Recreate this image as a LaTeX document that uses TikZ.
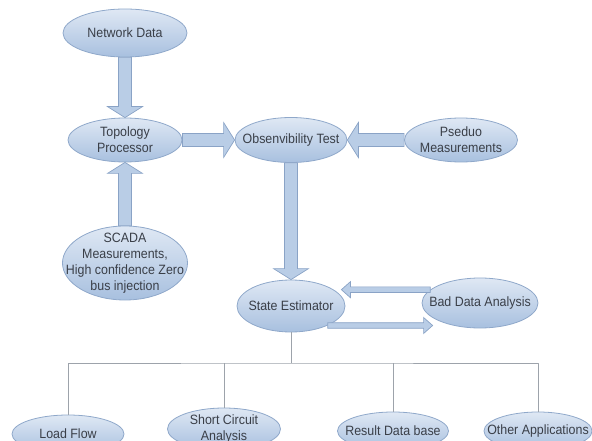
\documentclass[tikz,border=0pt]{standalone}
\usepackage{fontspec}
\setmainfont{Liberation Sans}[FakeStretch=0.92]
\usetikzlibrary{calc,shapes.geometric}
\definecolor{ellborder}{HTML}{8FA8CA}
\definecolor{elltop}{HTML}{DFE8F4}
\definecolor{ellbot}{HTML}{A8C0DF}
\definecolor{arrfill}{HTML}{B9CDE6}
\definecolor{arrborder}{HTML}{8AA3C6}
\definecolor{treeline}{HTML}{9DA3AB}
\definecolor{txt}{HTML}{3A3F48}

\begin{document}
\begin{tikzpicture}[x=1pt,y=-1pt,line join=round,
  ptext/.style={inner sep=0pt,align=center,text=txt,font=\fontsize{13.5}{16}\selectfont},
  proc/.style={ellipse,draw=ellborder,line width=0.8pt,top color=elltop,bottom color=ellbot,
    inner sep=0pt,label={[ptext]center:#1}},
  block/.style n args={3}{draw=arrborder,line width=0.7pt,fill=arrfill,line join=miter,
    to path={($(\tikztostart)!#1!90:(\tikztotarget)$)
      -- ($($(\tikztotarget)!#3!(\tikztostart)$)!#1!90:(\tikztotarget)$)
      -- ($($(\tikztotarget)!#3!(\tikztostart)$)!#2!90:(\tikztotarget)$)
      -- (\tikztotarget)
      -- ($($(\tikztotarget)!#3!(\tikztostart)$)!#2!-90:(\tikztotarget)$)
      -- ($($(\tikztotarget)!#3!(\tikztostart)$)!#1!-90:(\tikztotarget)$)
      -- ($(\tikztostart)!#1!-90:(\tikztotarget)$) -- cycle}},
  big/.style={block={6.5pt}{17.5pt}{11pt}},
  small/.style={block={2.8pt}{8pt}{9pt}},
  tree/.style={draw=treeline,line width=0.8pt}]
  \useasboundingbox (0,0) rectangle (592,441);
  % upper part
  \node[proc={Network Data},minimum width=124pt,minimum height=48pt] (nd) at (125,33) {};
  \node[proc={Topology\\Processor},minimum width=114pt,minimum height=44pt] (tp) at (125,140) {};
  \node[proc={SCADA\\Measurements,\\High confidence Zero\\bus injection},
    minimum width=125pt,minimum height=74pt] (sc) at (125,263) {};
  \node[proc={Obsenvibility Test},minimum width=112pt,minimum height=45pt] (ot) at (291,140) {};
  \node[proc={Pseduo\\Measurements},minimum width=113pt,minimum height=44pt] (pm) at (461,140) {};
  \node[proc={State Estimator},minimum width=108pt,minimum height=52pt] (se) at (291,306) {};
  \node[proc={Bad Data Analysis},minimum width=116pt,minimum height=50pt] (bd) at (480,303) {};
  % applications
  \node[proc={Load Flow},minimum width=112pt,minimum height=38pt] (lf) at (68,434) {};
  \node[proc={Short Circuit\\Analysis},minimum width=113pt,minimum height=42pt] (sca) at (224,429) {};
  \node[proc={Result Data base},minimum width=111pt,minimum height=38pt] (rd) at (393,431) {};
  \node[proc={Other Applications},minimum width=108pt,minimum height=38pt] (oa) at (538,431) {};
  % block arrows
  \draw[big] (nd.south) to (tp.north);
  \draw[big] (sc.north) to (tp.south);
  \draw[big] (tp.east) to (ot.west);
  \draw[big] (pm.west) to (ot.east);
  \draw[big] (ot.south) to (se.north);
  \draw[small] (bd.165) to ($(bd.165 -| se.east)+(-4,0)$);
  \draw[small] (se.-28) to ($(se.-28 -| bd.west)+(11,0)$);
  % tree
  \coordinate (bus) at (291,363);
  \draw[tree] (se.south) -- (bus);
  \draw[tree] (lf.north) |- (bus) -| (oa.north);
  \draw[tree] (sca.north) -- (sca.north |- bus);
  \draw[tree] (rd.north) -- (rd.north |- bus);
\end{tikzpicture}
\end{document}
